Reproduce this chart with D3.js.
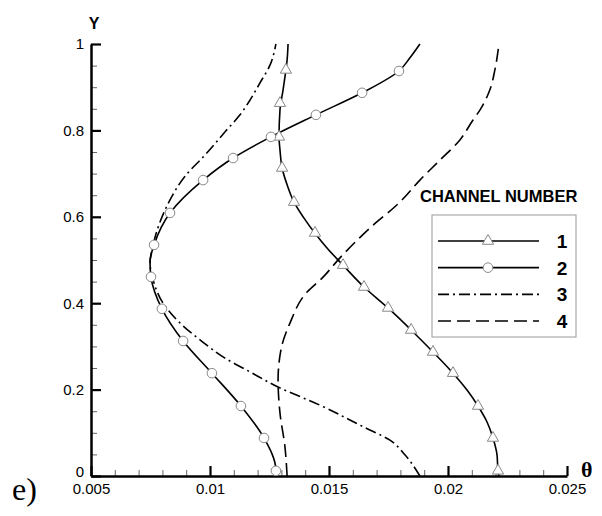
<!DOCTYPE html>
<head>
<meta charset="utf-8">
<style>
  body { margin:0; background:#fff; }
  .tick text { font-family:"Liberation Sans", Arial, sans-serif; font-size:15px; fill:#000; }
</style>
</head>
<script src="https://d3js.org/d3.v7.min.js"></script>
<div id="my_dataviz"></div>
<script>
// theta (x) and Y values, ordered bottom to top
var channel1 = [[0.02214,0],[0.0221,0.012],[0.02206,0.049],[0.02189,0.088],[0.02164,0.125],[0.02126,0.162],[0.0208,0.199],[0.02021,0.238],[0.01937,0.287],[0.01845,0.338],[0.01748,0.389],[0.01647,0.4375],[0.01559,0.488],[0.01496,0.525],[0.01441,0.562],[0.01395,0.597],[0.01353,0.634],[0.01324,0.674],[0.01303,0.713],[0.01294,0.755],[0.0129,0.785],[0.01294,0.847],[0.01307,0.894],[0.01319,0.94],[0.01324,0.963],[0.01328,1]];
var channel2 = [[0.01277,0],[0.01277,0.012],[0.01227,0.088],[0.0113,0.162],[0.01008,0.238],[0.00887,0.3125],[0.00798,0.387],[0.00752,0.461],[0.00748,0.495],[0.00765,0.535],[0.00832,0.609],[0.00971,0.685],[0.01097,0.736],[0.01256,0.785],[0.01445,0.836],[0.01639,0.887],[0.01794,0.9375],[0.0184,0.968],[0.01882,1]];
var channel3 = [[0.01882,0],[0.01819,0.049],[0.01756,0.083],[0.01647,0.113],[0.01462,0.164],[0.01286,0.206],[0.01168,0.241],[0.01063,0.273],[0.00958,0.315],[0.00882,0.35],[0.00803,0.40],[0.00761,0.454],[0.00748,0.493],[0.00761,0.535],[0.0079,0.588],[0.00832,0.639],[0.00895,0.694],[0.00979,0.743],[0.01067,0.799],[0.01126,0.836],[0.01168,0.870],[0.0121,0.91],[0.01252,0.951],[0.01277,1]];
var channel4 = [[0.01324,0],[0.01315,0.067],[0.01294,0.146],[0.01286,0.222],[0.01298,0.292],[0.01336,0.354],[0.01408,0.426],[0.01471,0.458],[0.01546,0.505],[0.01672,0.574],[0.01798,0.634],[0.01882,0.685],[0.01966,0.731],[0.0205,0.778],[0.02105,0.824],[0.02134,0.847],[0.02176,0.894],[0.02197,0.94],[0.02214,1]];

var triangles1 = [[0.0221,0.012],[0.02189,0.088],[0.02126,0.162],[0.02021,0.238],[0.01937,0.287],[0.01845,0.338],[0.01748,0.389],[0.01647,0.4375],[0.01559,0.488],[0.01441,0.5625],[0.01353,0.634],[0.01303,0.713],[0.0129,0.785],[0.01294,0.863],[0.01319,0.94]];
var circles2 = [[0.01277,0.012],[0.01227,0.088],[0.0113,0.162],[0.01008,0.238],[0.00887,0.3125],[0.00798,0.387],[0.00752,0.461],[0.00765,0.535],[0.00832,0.609],[0.00971,0.685],[0.01097,0.736],[0.01256,0.785],[0.01445,0.836],[0.01639,0.887],[0.01794,0.9375]];

var xTicks = [0.005,0.01,0.015,0.02,0.025];
var xTickLabels = ["0.005","0.01","0.015","0.02","0.025"];
var yTicks = [0,0.2,0.4,0.6,0.8,1];
var yTickLabels = ["0","0.2","0.4","0.6","0.8","1"];
var legendNames = ["1","2","3","4"];
var legendTitle = "CHANNEL NUMBER";

var margin = {top: 44, right: 35, bottom: 40, left: 91},
    width = 602 - margin.left - margin.right,
    height = 516 - margin.top - margin.bottom;

var svgRoot = d3.select("#my_dataviz")
  .append("svg")
    .attr("width", 602)
    .attr("height", 516);
var svg = svgRoot.append("g")
    .attr("transform", "translate(" + margin.left + "," + margin.top + ")");

var x = d3.scaleLinear().domain([0.005,0.025]).range([0, width]);
var y = d3.scaleLinear().domain([0,1]).range([height, 0]);

// minor ticks first so major ones sit on top
var xMinor = d3.range(0.005, 0.02501, 0.001).filter(function(v){ return Math.abs(v*200 - Math.round(v*200)) > 1e-6; });
var yMinor = d3.range(0, 1.001, 0.05).filter(function(v){ return Math.abs(v*5 - Math.round(v*5)) > 1e-6; });

svg.append("g")
  .attr("transform", "translate(0," + height + ")")
  .call(d3.axisBottom(x).tickValues(xMinor).tickSize(-6).tickSizeOuter(0).tickFormat(""))
  .call(function(g){ g.select(".domain").remove(); g.selectAll("line").attr("stroke","#666").attr("stroke-width",1); });
svg.append("g")
  .call(d3.axisLeft(y).tickValues(yMinor).tickSize(-6).tickSizeOuter(0).tickFormat(""))
  .call(function(g){ g.select(".domain").remove(); g.selectAll("line").attr("stroke","#666").attr("stroke-width",1); });

var xAxis = svg.append("g")
  .attr("transform", "translate(0," + height + ")")
  .call(d3.axisBottom(x).tickValues(xTicks).tickSize(-10).tickSizeOuter(0).tickPadding(7)
        .tickFormat(function(d,i){ return xTickLabels[i]; }));
xAxis.select(".domain").attr("stroke-width", 2.5);
xAxis.selectAll("line").attr("stroke-width", 2.2);

var yAxis = svg.append("g")
  .call(d3.axisLeft(y).tickValues(yTicks).tickSize(-10).tickSizeOuter(0).tickPadding(7)
        .tickFormat(function(d,i){ return yTickLabels[i]; }));
yAxis.select(".domain").attr("stroke-width", 2.5);
yAxis.selectAll("line").attr("stroke-width", 2.2);
yAxis.selectAll("text").attr("x", -7);
// the "0" label sits just above the first x label, as in the original
yAxis.selectAll(".tick").filter(function(d){ return d === 0; }).select("text").attr("dy", "0.05em");

// curves
var line = d3.line()
  .x(function(d){ return x(d[0]); })
  .y(function(d){ return y(d[1]); })
  .curve(d3.curveMonotoneY);

var styles = [
  {data: channel1, dash: null},
  {data: channel2, dash: null},
  {data: channel3, dash: "11,4,2,4"},
  {data: channel4, dash: "13,6"}
];
styles.forEach(function(s){
  svg.append("path")
    .datum(s.data)
    .attr("fill", "none")
    .attr("stroke", "black")
    .attr("stroke-width", 1.6)
    .attr("stroke-dasharray", s.dash)
    .attr("d", line);
});

var tri = d3.symbol().type(d3.symbolTriangle).size(55);
svg.selectAll(".tri")
  .data(triangles1)
  .enter().append("path")
    .attr("d", tri)
    .attr("transform", function(d){ return "translate(" + x(d[0]) + "," + y(d[1]) + ")"; })
    .attr("fill", "white").attr("stroke", "#888").attr("stroke-width", 1);

svg.selectAll(".circ")
  .data(circles2)
  .enter().append("circle")
    .attr("cx", function(d){ return x(d[0]); })
    .attr("cy", function(d){ return y(d[1]); })
    .attr("r", 4.8)
    .attr("fill", "white").attr("stroke", "#888").attr("stroke-width", 1);

// axis titles
svgRoot.append("text").attr("x", 94).attr("y", 29).attr("text-anchor", "middle")
  .style("font-family", "Liberation Sans, Arial, sans-serif").style("font-size", "16px").style("font-weight", "bold")
  .text("Y");
svgRoot.append("text").attr("x", 581).attr("y", 477)
  .style("font-family", "Liberation Serif, Times New Roman, serif").style("font-size", "22px").style("font-weight", "bold")
  .text("θ");
svgRoot.append("text").attr("x", 12).attr("y", 500)
  .style("font-family", "Liberation Serif, Times New Roman, serif").style("font-size", "32px")
  .text("e)");

// legend
var legend = svgRoot.append("g");
legend.append("text").attr("x", 420).attr("y", 202)
  .style("font-family", "Liberation Sans, Arial, sans-serif").style("font-size", "16.5px").style("font-weight", "bold")
  .text(legendTitle);
legend.append("rect").attr("x", 432).attr("y", 215).attr("width", 144).attr("height", 122)
  .attr("fill", "white").attr("stroke", "#999").attr("stroke-width", 1);

var legendY = d3.scalePoint().domain(legendNames).range([241, 321]);
legendNames.forEach(function(n, i){
  var ly = legendY(n);
  legend.append("line").attr("x1", 438).attr("x2", 539).attr("y1", ly).attr("y2", ly)
    .attr("stroke", "black").attr("stroke-width", 1.6).attr("stroke-dasharray", styles[i].dash);
  if (i === 0) {
    legend.append("path").attr("d", tri).attr("transform", "translate(488," + ly + ")")
      .attr("fill", "white").attr("stroke", "#888");
  }
  if (i === 1) {
    legend.append("circle").attr("cx", 488).attr("cy", ly).attr("r", 4.8)
      .attr("fill", "white").attr("stroke", "#888");
  }
  legend.append("text").attr("x", 562).attr("y", ly + 7).attr("text-anchor", "middle")
    .style("font-family", "Liberation Sans, Arial, sans-serif").style("font-size", "19px").style("font-weight", "bold")
    .text(n);
});
</script>
